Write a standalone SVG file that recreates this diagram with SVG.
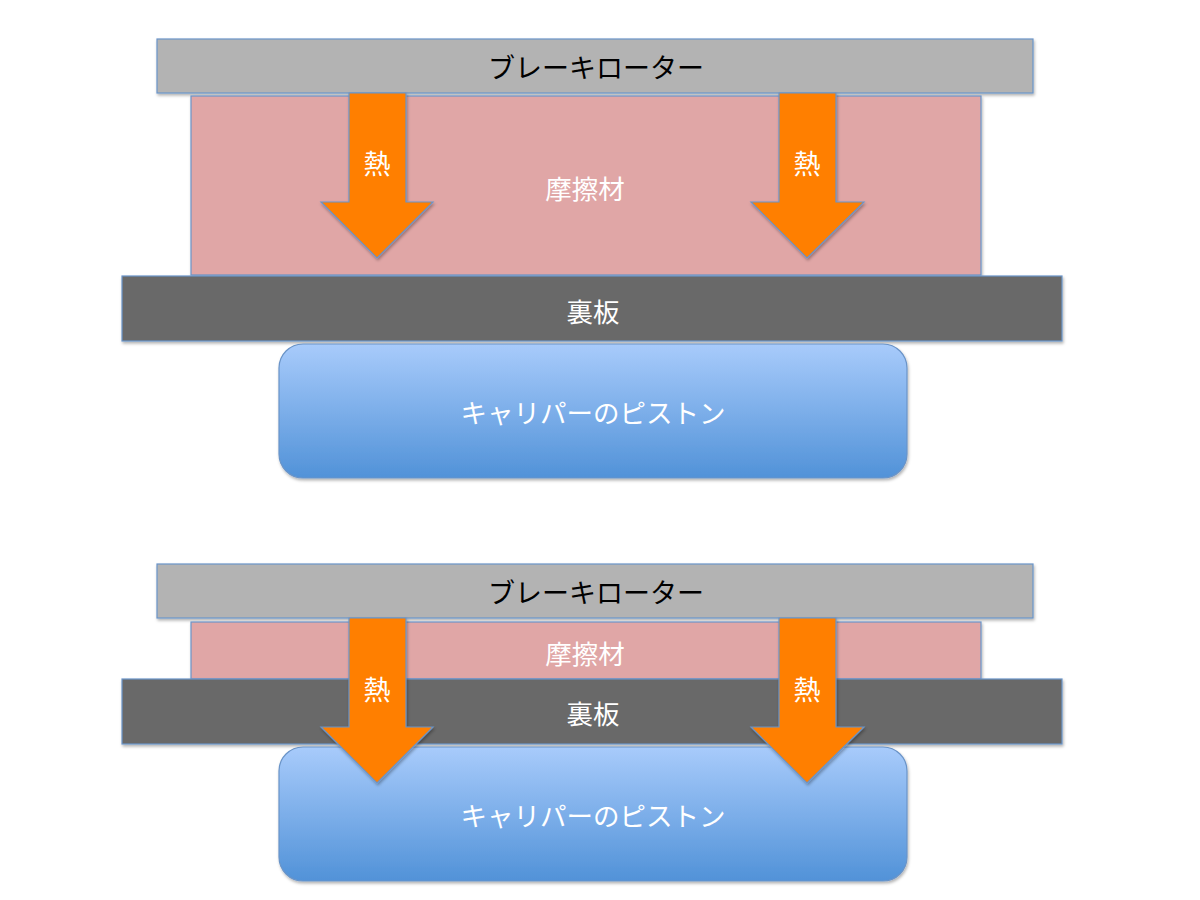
<svg xmlns="http://www.w3.org/2000/svg" width="1200" height="900" viewBox="0 0 1200 900">
<defs>
<linearGradient id="pg" x1="0" y1="0" x2="0" y2="1">
<stop offset="0" stop-color="#a8cbfb"/>
<stop offset="1" stop-color="#5192d8"/>
</linearGradient>
<filter id="sh" x="-5%" y="-10%" width="110%" height="130%">
<feDropShadow dx="1" dy="2" stdDeviation="1.5" flood-color="#000" flood-opacity="0.3"/>
</filter>
</defs>
<style>
.s{stroke:#6a94c8;stroke-width:1.2;filter:url(#sh)}
.rotor{fill:#b3b3b3}
.fric{fill:#e0a6a6}
.back{fill:#696969}
.piston{fill:url(#pg)}
.arrow{fill:#ff7f00;stroke:#6a94c8;stroke-width:1.2;filter:url(#sh)}
text{font-family:"Noto Sans CJK JP","Noto Sans",sans-serif;font-size:26.5px;text-anchor:middle;dominant-baseline:central}
.k{fill:#000;font-size:27px}
.w{fill:#fff}
.h{font-size:27px}
</style>
<g id="top">
<g id="rotor1"><rect class="s rotor" x="157" y="39" width="876" height="54"/><text class="k" x="596" y="66">ブレーキローター</text></g>
<g id="friction1"><rect class="s fric" x="191" y="96" width="790" height="179"/><text class="w" x="585" y="187">摩擦材</text></g>
<g id="back1"><rect class="s back" x="122" y="276" width="940" height="65"/><text class="w" x="593" y="310">裏板</text></g>
<g id="piston1"><rect class="s piston" x="279" y="344" width="628" height="134" rx="24"/><text class="w" x="593" y="411">キャリパーのピストン</text></g>
</g>
<g id="bottom">
<g id="rotor2"><rect class="s rotor" x="157" y="564" width="876" height="54"/><text class="k" x="596" y="591">ブレーキローター</text></g>
<g id="friction2"><rect class="s fric" x="191" y="622" width="790" height="57"/><text class="w" x="585" y="652">摩擦材</text></g>
<g id="back2"><rect class="s back" x="122" y="679" width="940" height="65"/><text class="w" x="593" y="712">裏板</text></g>
<g id="piston2"><rect class="s piston" x="279" y="747" width="628" height="134" rx="24"/><text class="w" x="593" y="814">キャリパーのピストン</text></g>
</g>
<g id="connectors">
<g id="arrow1"><path class="arrow" d="M349 93 H406 V202 H433 L377 258 L321 202 H349 Z"/><text class="w h" x="377" y="162">熱</text></g>
<g id="arrow2"><path class="arrow" d="M779 93 H836 V202 H864 L807 258 L751 202 H779 Z"/><text class="w h" x="807" y="162">熱</text></g>
<g id="arrow3"><path class="arrow" d="M349 618 H406 V727 H433 L377 783 L321 727 H349 Z"/><text class="w h" x="377" y="688">熱</text></g>
<g id="arrow4"><path class="arrow" d="M779 618 H836 V727 H864 L807 783 L751 727 H779 Z"/><text class="w h" x="807" y="688">熱</text></g>
</g>
</svg>
